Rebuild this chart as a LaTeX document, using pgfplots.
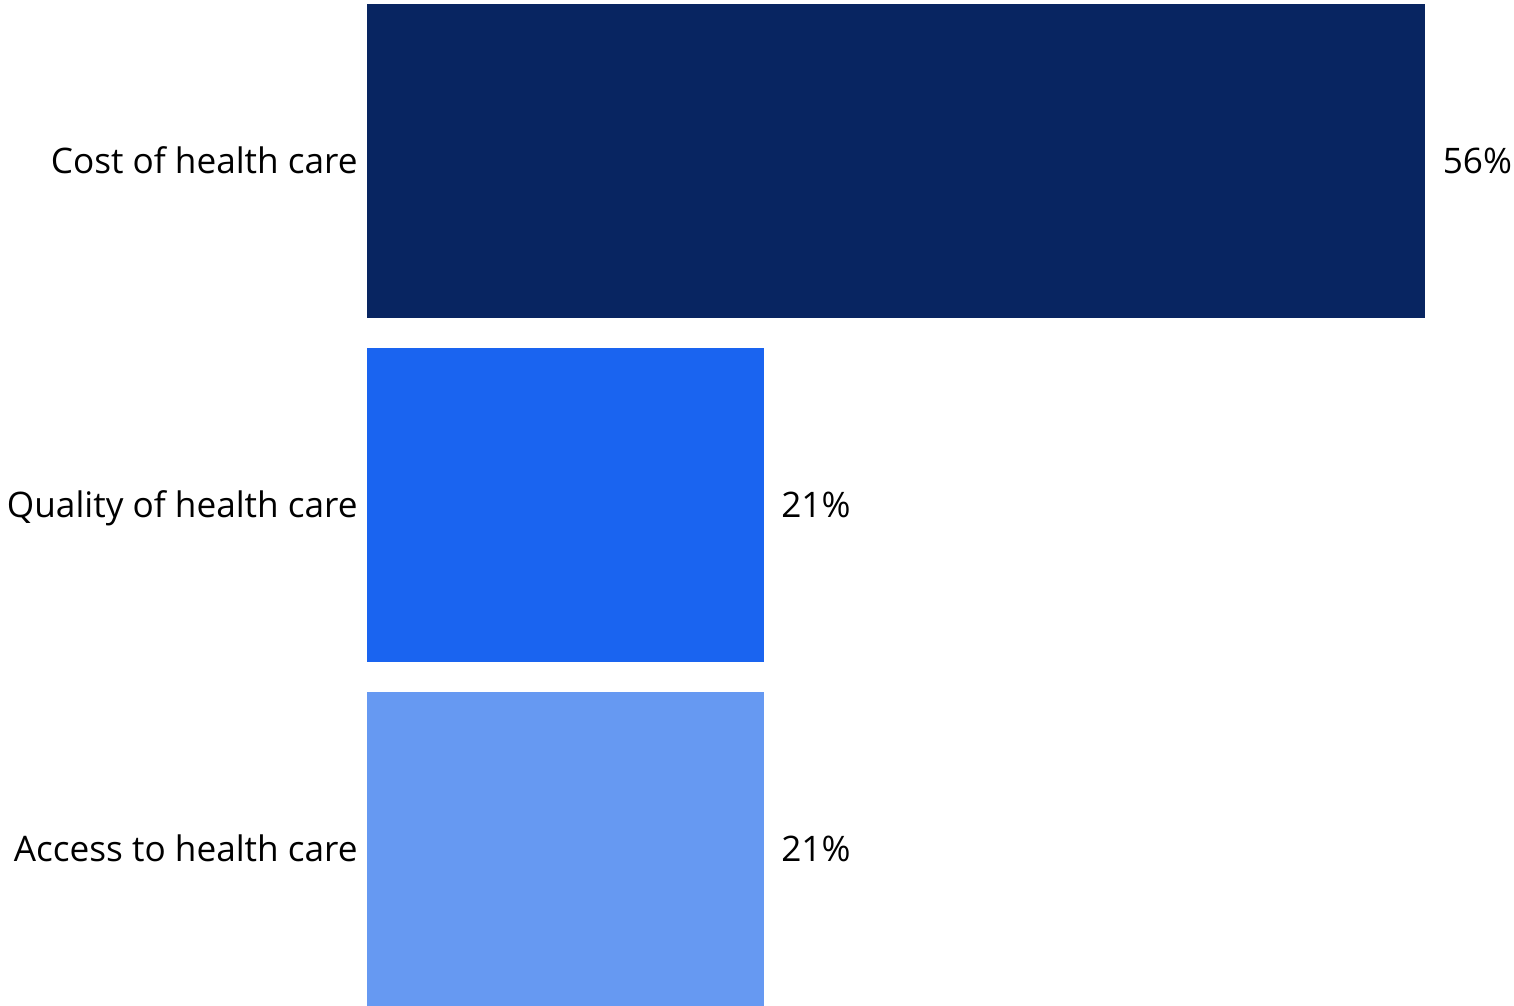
\documentclass[border=0pt]{standalone}
\usepackage{pgfplots}
\pgfplotsset{compat=1.18}
\usepackage{fontspec}
\setmainfont{Open Sans}
\definecolor{c1}{HTML}{082561}
\definecolor{c2}{HTML}{1A64F0}
\definecolor{c3}{HTML}{6699F2}
\begin{document}
\begin{tikzpicture}
\begin{axis}[
  scale only axis,
  width=529.5pt, height=503pt,
  xbar, bar width=157pt, bar shift=0pt,
  xmin=0, xmax=56,
  ymin=-0.4558, ymax=2.4674,
  axis line style={draw=none},
  tick style={draw=none},
  major tick length=0pt,
  xtick=\empty,
  ytick={0,1,2},
  yticklabels={Access to health care, Quality of health care, Cost of health care},
  yticklabel style={font=\fontsize{17.6pt}{21pt}\selectfont, text height=12.6pt, text depth=0pt, inner sep=0pt, xshift=-4.5pt},
  /pgf/number format/assume math mode=true,
  nodes near coords={\pgfmathprintnumber{\pgfplotspointmeta}\%},
  point meta=x,
  nodes near coords style={font=\fontsize{17.6pt}{21pt}\selectfont, text height=12.6pt, text depth=0pt, inner sep=0pt, anchor=west, xshift=8.5pt, black},
  clip=false,
]
\addplot[fill=c1, draw=none] coordinates {(56,2)};
\addplot[fill=c2, draw=none] coordinates {(21,1)};
\addplot[fill=c3, draw=none] coordinates {(21,0)};
\end{axis}
\path (current bounding box.south west) ++(-3.5pt,0pt);
\path (current bounding box.south east) ++(1pt,0pt);
\end{tikzpicture}
\end{document}
